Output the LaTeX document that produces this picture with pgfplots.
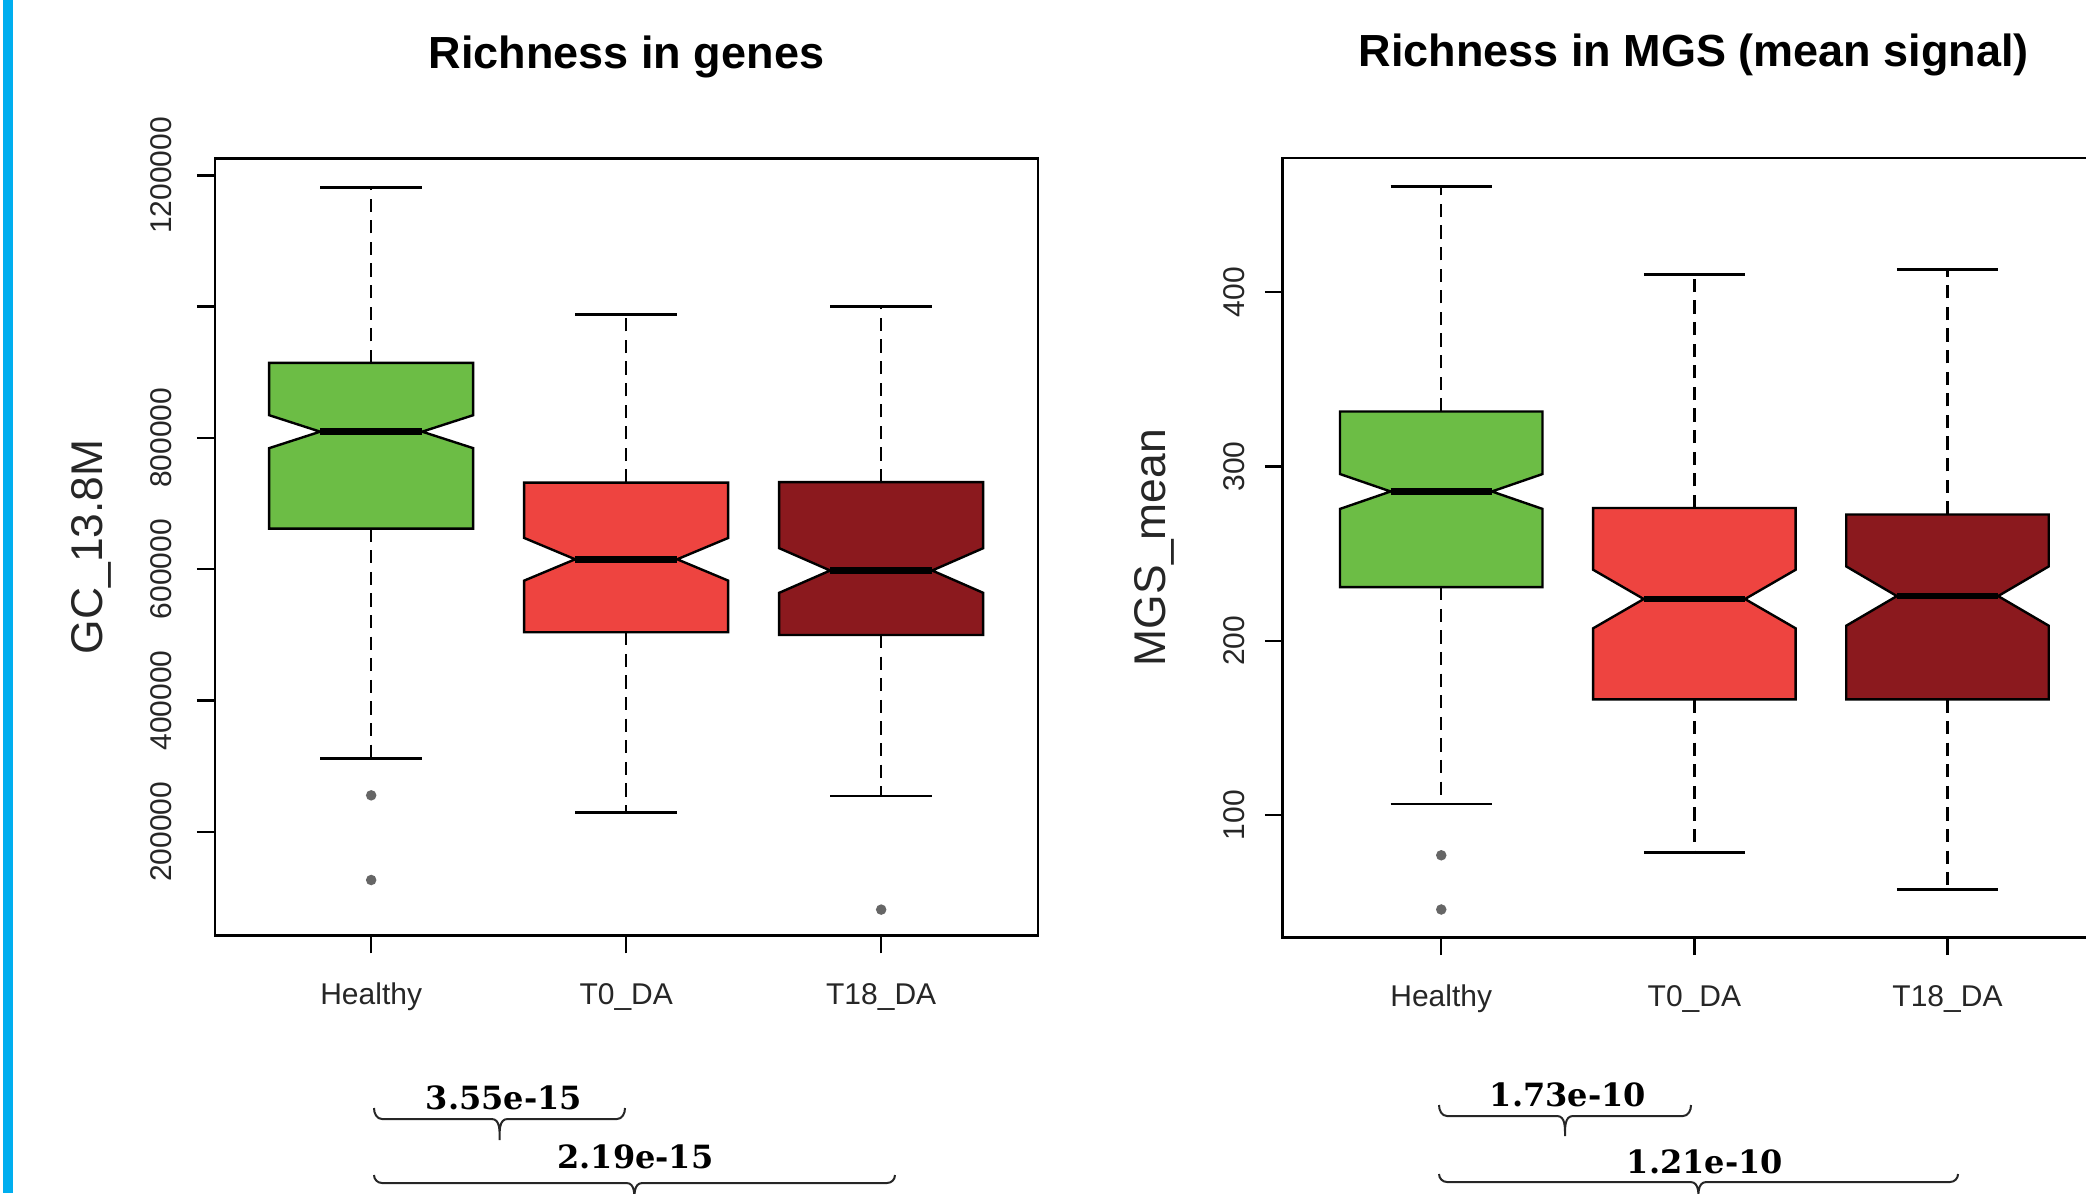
\documentclass[border=0pt]{standalone}
\usepackage{pgfplots}
\pgfplotsset{compat=1.18}
\usepackage{fontspec}
\setmainfont{Liberation Sans}
\newfontfamily\pvalfont{DejaVu Serif}

\definecolor{hgreen}{RGB}{108,189,69}
\definecolor{tzred}{RGB}{238,68,64}
\definecolor{teired}{RGB}{139,25,30}
\definecolor{sidebar}{RGB}{0,174,239}

% Notched box plot of one group:
% #1 position, #2 fill, #3 lower whisker, #4 lower quartile, #5 notch low,
% #6 median, #7 notch high, #8 upper quartile, #9 upper whisker
\newcommand\notchbox[9]{%
  \pgfmathsetmacro\bxl{#1-0.4}\pgfmathsetmacro\bxr{#1+0.4}%
  \pgfmathsetmacro\mxl{#1-0.2}\pgfmathsetmacro\mxr{#1+0.2}%
  \addplot[whisk] coordinates {(#1,#4) (#1,#3)};
  \addplot[whisk] coordinates {(#1,#8) (#1,#9)};
  \addplot[cap] coordinates {(\mxl,#3) (\mxr,#3)};
  \addplot[cap] coordinates {(\mxl,#9) (\mxr,#9)};
  \addplot[mark=none, fill=#2, draw=black, line width=0.6pt] coordinates {
    (\bxl,#4) (\bxl,#5) (\mxl,#6) (\bxl,#7) (\bxl,#8)
    (\bxr,#8) (\bxr,#7) (\mxr,#6) (\bxr,#5) (\bxr,#4)} -- cycle;
  \addplot[mark=none, line width=1.7pt, black] coordinates {(\mxl,#6) (\mxr,#6)};
}

\pgfplotsset{
  whisk/.style={mark=none, line width=0.6pt, black, dash pattern=on 3.3pt off 2.1pt},
  cap/.style={mark=none, line width=0.7pt, black},
  outlier/.style={only marks, mark=*, mark size=1.1pt, color=black!60},
  panel/.style={
    anchor=south west, scale only axis,
    axis line style={line width=0.7pt, black},
    tick align=outside, xtick pos=bottom, ytick pos=left,
    major tick length=4.5pt,
    tick style={line width=0.6pt, black},
    xtick={1,2,3}, xticklabels={Healthy,T0\_DA,T18\_DA},
    scaled y ticks=false,
    /pgf/number format/assume math mode=true,
    tick label style={font=\fontsize{7.5}{9}\selectfont, text=black!85, inner sep=0pt},
    xticklabel style={anchor=base, yshift=-12.7pt},
    title style={font=\bfseries\fontsize{11.25}{13}\selectfont, anchor=base},
    every axis y label/.style={rotate=90, anchor=base,
      font=\fontsize{11.1}{13}\selectfont, text=black!85},
  },
}

\begin{document}
\begin{tikzpicture}
\path[use as bounding box] (0,0) rectangle (521.5pt,298.25pt);
\clip (0,0) rectangle (521.5pt,298.25pt);
\fill[sidebar] (0.8pt,0) rectangle (3.3pt,298.25pt);

% ---- gene richness ----
\begin{axis}[panel, at={(53.75pt,64.4pt)}, width=205.75pt, height=194.3pt,
  xmin=0.3875, xmax=3.615, ymin=42100, ymax=1226100,
  ytick={200000,400000,600000,800000,1000000,1200000},
  yticklabels={\mbox{200000},\mbox{400000},\mbox{600000},\mbox{800000},{},\mbox{1200000}},
  yticklabel style={rotate=90, anchor=base, yshift=6.3pt},
  title={Richness in genes}, title style={at={(axis description cs:0.5,1.085)}},
  ylabel={GC\_13.8M}, ylabel style={at={(axis description cs:-0.137,0.5)}}]
\notchbox{1}{hgreen}{312000}{661800}{784400}{809500}{834600}{914200}{1181600}
\notchbox{2}{tzred}{229500}{504000}{582600}{615100}{647600}{731800}{987400}
\notchbox{3}{teired}{254500}{499700}{564000}{598000}{632000}{732600}{1000800}
\addplot[outlier] coordinates {(1,255500) (1,126500) (3,81400)};
\end{axis}

% ---- MGS richness ----
\begin{axis}[panel, at={(320.7pt,63.95pt)}, width=205.4pt, height=194.8pt,
  xmin=0.374, xmax=3.62, ymin=30, ymax=477,
  ytick={100,200,300,400},
  yticklabel style={rotate=90, anchor=base, yshift=5pt},
  title={Richness in MGS (mean signal)}, title style={at={(axis description cs:0.5,1.086)}},
  ylabel={MGS\_mean}, ylabel style={at={(axis description cs:-0.1433,0.5)}}]
\notchbox{1}{hgreen}{106.4}{230.8}{275.7}{285.7}{295.7}{331.6}{460.7}
\notchbox{2}{tzred}{78.6}{166.4}{207.2}{224.0}{240.8}{276.2}{410.1}
\notchbox{3}{teired}{57.5}{166.4}{208.7}{225.7}{242.7}{272.5}{413.0}
\addplot[outlier] coordinates {(1,77) (1,45.9)};
\end{axis}

% ---- pairwise p-values ----
\tikzset{pbrace/.style={line width=0.5pt, black!85},
         plabel/.style={anchor=base, inner sep=0pt, font=\pvalfont\bfseries\fontsize{8}{9}\selectfont}}
\draw[pbrace] (93.5pt,21.25pt) to[out=-90,in=180] (95.5pt,18.5pt) -- (122.9pt,18.5pt)
  to[out=0,in=90] (124.9pt,13.25pt) to[out=90,in=180] (126.9pt,18.5pt) -- (154.25pt,18.5pt)
  to[out=0,in=-90] (156.25pt,21.25pt);
\node[plabel] at (126pt,21pt) {3.55e-15};
\draw[pbrace] (93.5pt,4.5pt) to[out=-90,in=180] (95.5pt,2.5pt) -- (156.6pt,2.5pt)
  to[out=0,in=90] (158.6pt,-3pt) to[out=90,in=180] (160.6pt,2.5pt) -- (221.75pt,2.5pt)
  to[out=0,in=-90] (223.75pt,4.5pt);
\node[plabel] at (158.85pt,6.25pt) {2.19e-15};
\draw[pbrace] (359.75pt,22pt) to[out=-90,in=180] (361.75pt,19.25pt) -- (389.25pt,19.25pt)
  to[out=0,in=90] (391.25pt,14.25pt) to[out=90,in=180] (393.25pt,19.25pt) -- (420.75pt,19.25pt)
  to[out=0,in=-90] (422.75pt,22pt);
\node[plabel] at (392pt,21.75pt) {1.73e-10};
\draw[pbrace] (359.75pt,4.75pt) to[out=-90,in=180] (361.75pt,2.75pt) -- (422.6pt,2.75pt)
  to[out=0,in=90] (424.6pt,-3pt) to[out=90,in=180] (426.6pt,2.75pt) -- (487.5pt,2.75pt)
  to[out=0,in=-90] (489.5pt,4.75pt);
\node[plabel] at (426.25pt,5pt) {1.21e-10};
\end{tikzpicture}
\end{document}
